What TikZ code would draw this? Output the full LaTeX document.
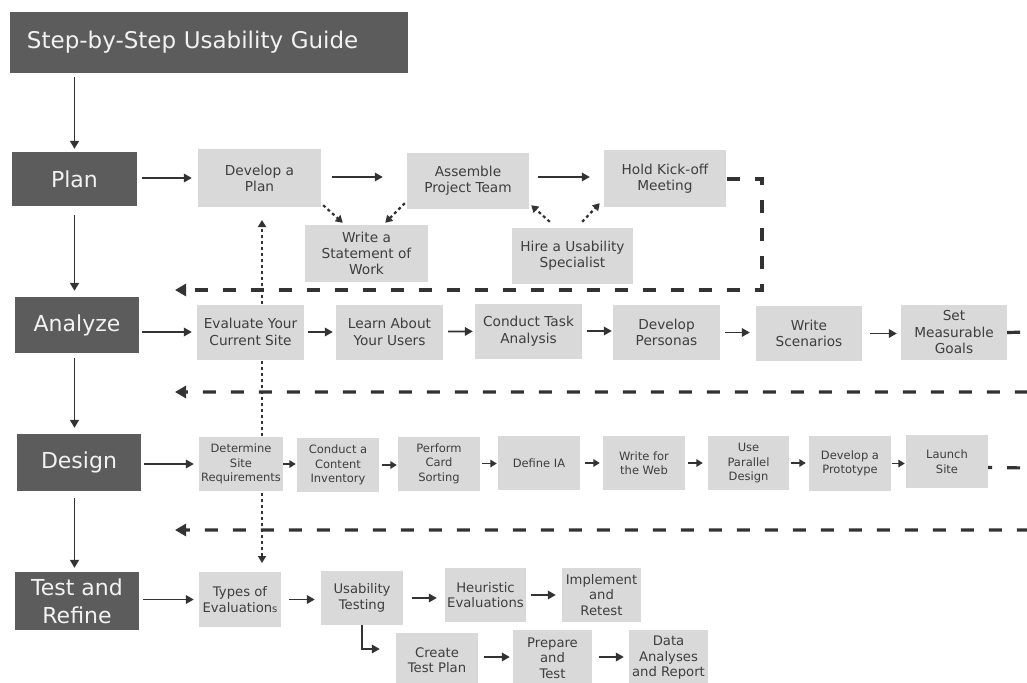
\documentclass[tikz,border=0pt]{standalone}
\usepackage{fontspec}
\setmainfont{DejaVu Sans}
\usetikzlibrary{arrows.meta,calc}
\definecolor{headfill}{HTML}{5C5C5C}
\definecolor{headtext}{HTML}{F2F2F2}
\definecolor{stepfill}{HTML}{D9D9D9}
\definecolor{steptext}{HTML}{3E3E3E}
\definecolor{ink}{HTML}{333333}

\begin{document}
\begin{tikzpicture}[x=1pt,y=-1pt,
  head/.style={fill=headfill, text=headtext, font=\fontsize{22}{28}\selectfont,
    align=center, inner sep=0pt, minimum width=124pt},
  stepbox/.style={fill=stepfill, text=steptext, align=center, inner sep=0pt},
  planbox/.style={stepbox, font=\fontsize{13.7}{16}\selectfont, minimum width=122pt, minimum height=57pt},
  anabox/.style={stepbox, font=\fontsize{13.7}{16.5}\selectfont, minimum width=107pt, minimum height=55pt},
  desbox/.style={stepbox, font=\fontsize{11.5}{14.5}\selectfont, minimum width=82pt, minimum height=54pt},
  testbox/.style={stepbox, font=\fontsize{13.2}{15.5}\selectfont, minimum width=81pt, minimum height=55pt},
  flow/.style={draw=ink, line width=1.8pt, -{Triangle[length=8pt,width=8.5pt]}},
  shortflow/.style={draw=ink, line width=1.6pt, -{Triangle[length=6.5pt,width=7.5pt]}},
  downflow/.style={draw=ink, line width=1.8pt, -{Triangle[length=8pt,width=9pt]}},
  loopback/.style={draw=ink, line width=3.2pt, dash pattern=on 13pt off 15pt,
    -{Triangle[length=11pt,width=12pt]}},
  hint/.style={draw=ink, line width=2.2pt, dash pattern=on 3pt off 3pt,
    -{Triangle[length=7pt,width=8pt]}},
  crosslink/.style={draw=ink, line width=2pt, dash pattern=on 3pt off 3pt,
    {Triangle[length=7pt,width=8pt]}-{Triangle[length=7pt,width=8pt]}}
]
\useasboundingbox (0,0) rectangle (1027,682);
\fill[white] (0,0) rectangle (1027,682);

% dotted link between "Develop a Plan" and "Types of Evaluations" (drawn first, boxes cover it)
\coordinate (vtop) at (262,220);
\coordinate (vbot) at (262,563);
\draw[crosslink] (vbot) -- (vtop);

% title and phase headings
\node[fill=headfill, text=headtext, font=\fontsize{23}{28}\selectfont, align=left,
  text width=364pt, inner xsep=17pt, inner ysep=0pt, minimum height=61pt]
  (title) at (209,42.5) {Step-by-Step Usability Guide};
\node[head, minimum width=125pt, minimum height=54pt] (plan) at (74.5,179) {Plan};
\node[head, minimum height=56pt] (analyze) at (77,325) {Analyze};
\node[head, minimum height=57pt] (design) at (79,462.5) {Design};
\node[head, minimum height=58pt] (test) at (77,601) {Test and\\Refine};

% Plan
\node[planbox, minimum width=123pt, minimum height=58pt] (dplan) at (259.5,178) {Develop a\\Plan};
\node[planbox, minimum height=56pt] (team) at (468,181) {Assemble\\Project Team};
\node[planbox] (kick) at (665,178.5) {Hold Kick-off\\Meeting};
\node[planbox, minimum width=123pt] (sow) at (366.5,253.5) {Write a\\Statement of\\Work};
\node[planbox, minimum width=121pt, minimum height=56pt] (hire) at (572.5,256) {Hire a Usability\\Specialist};

% Analyze
\node[anabox] (eval) at (250.5,332) {Evaluate Your\\Current Site};
\node[anabox] (learn) at (389.5,332) {Learn About\\Your Users};
\node[anabox] (task) at (528.5,331) {Conduct Task\\Analysis};
\node[anabox] (pers) at (666.5,332.5) {Develop\\Personas};
\node[anabox, minimum width=106pt] (scen) at (809,333.5) {Write\\Scenarios};
\node[anabox, minimum width=106pt] (goals) at (954,332.5) {Set\\Measurable\\Goals};

% Design
\node[desbox, minimum width=84pt] (req) at (241,464) {Determine\\Site\\Requirements};
\node[desbox] (inv) at (338,465) {Conduct a\\Content\\Inventory};
\node[desbox] (card) at (439,463.5) {Perform\\Card\\Sorting};
\node[desbox] (ia) at (539,463) {Define IA};
\node[desbox] (web) at (644,463) {Write for\\the Web};
\node[desbox, minimum width=81pt] (par) at (748.5,463) {Use\\Parallel\\Design};
\node[desbox, minimum height=55pt] (proto) at (850,463.5) {Develop a\\Prototype};
\node[desbox, minimum height=53pt] (launch) at (947,461.5) {Launch\\Site};

% Test and Refine
\node[testbox, minimum width=82pt] (types) at (240,599.5) {Types of\\Evaluation{\fontsize{10}{12}\selectfont s}};
\node[testbox, minimum width=82pt, minimum height=54pt] (ut) at (362,598) {Usability\\Testing};
\node[testbox, minimum height=54pt] (heur) at (485.5,595) {Heuristic\\Evaluations};
\node[testbox, minimum width=79pt, minimum height=54pt] (impl) at (601.5,595) {Implement\\and\\Retest};
\node[testbox, minimum width=82pt, minimum height=54pt] (ctp) at (437,660) {Create\\Test Plan};
\node[testbox, minimum width=79pt, minimum height=56pt] (prep) at (552.5,658) {Prepare\\and\\Test};
\node[testbox, minimum width=79pt, minimum height=56pt] (data) at (668.5,658) {Data\\Analyses\\and Report};

% main spine
\draw[downflow, shorten <=4pt, shorten >=3pt] (plan.north |- title.south) -- (plan.north);
\draw[downflow, shorten <=9pt, shorten >=6pt] (plan.south) -- (plan.south |- analyze.north);
\draw[downflow, shorten <=5pt, shorten >=6pt] (plan.south |- analyze.south) -- (plan.south |- design.north);
\draw[downflow, shorten <=7pt, shorten >=4pt] (plan.south |- design.south) -- (plan.south |- test.north);

% phase to first step
\draw[flow, shorten <=5pt, shorten >=6pt] (plan.east |- dplan.west) -- (dplan.west);
\draw[flow, shorten <=3pt, shorten >=5pt] (analyze.east |- eval.west) -- (eval.west);
\draw[flow, shorten <=3pt, shorten >=5pt] (design.east |- req.west) -- (req.west);
\draw[flow, shorten <=4pt, shorten >=5pt] (test.east |- types.west) -- (types.west);

% Plan row
\draw[flow, shorten <=11pt, shorten >=24pt] ($(dplan.east)+(0,-1)$) -- ($(team.west)+(0,-4)$);
\draw[flow, shorten <=9pt, shorten >=14pt] ($(team.east)+(0,-4)$) -- ($(kick.west)+(0,-1.5)$);
\draw[hint] ($(dplan.south east)+(2,-2)$) -- ($(sow.north west)+(38,-2)$);
\draw[hint] ($(team.south west)+(-2,-6)$) -- ($(sow.north east)+(-43,-2)$);
\draw[hint] ($(hire.north west)+(38,-6)$) -- ($(team.south east)+(2,-4)$);
\draw[hint] ($(hire.north east)+(-51,-6)$) -- ($(kick.south west)+(-4,-4)$);
\coordinate (pcorner1) at (762,179);
\coordinate (pcorner2) at (762,290);
\coordinate (pend) at (175,290);
\draw[loopback] ($(kick.east)+(1,0.5)$) -- (pcorner1) -- (pcorner2) -- (pend);

% Analyze row
\draw[flow, shorten <=4pt, shorten >=3pt] (eval) -- (learn);
\draw[flow, shorten <=5pt, shorten >=2pt] (learn) -- (task);
\draw[flow, shorten <=5pt, shorten >=1pt] (task.east) -- (task.east -| pers.west);
\draw[flow, shorten <=5pt, shorten >=6pt] (pers.east) -- (pers.east -| scen.west);
\draw[flow, shorten <=8pt, shorten >=4pt] (scen.east) -- (scen.east -| goals.west);
\coordinate (acorner1) at (1029.5,332);
\coordinate (acorner2) at (1029.5,392);
\coordinate (aend) at (175,392);
\draw[loopback] (goals.east) -- (acorner1) -- (acorner2) -- (aend);

% Design row
\draw[shortflow, shorten <=0pt, shorten >=1pt] (req.east) -- (req.east -| inv.west);
\draw[shortflow, shorten <=3pt, shorten >=1pt] (inv.east) -- (inv.east -| card.west);
\draw[shortflow, shorten <=2pt, shorten >=1pt] (card.east) -- (card.east -| ia.west);
\draw[shortflow, shorten <=5pt, shorten >=3pt] (ia.east) -- (ia.east -| web.west);
\draw[shortflow, shorten <=3pt, shorten >=5pt] (web.east) -- (web.east -| par.west);
\draw[shortflow, shorten <=2pt, shorten >=3pt] (par.east) -- (par.east -| proto.west);
\draw[shortflow, shorten <=1pt, shorten >=1pt] (proto.east) -- (proto.east -| launch.west);
\coordinate (dcorner1) at (1029.5,468);
\coordinate (dcorner2) at (1029.5,530);
\coordinate (dend) at (175,530);
\draw[loopback, dash phase=9pt] ([yshift=-6pt]launch.east) -- (dcorner1) -- (dcorner2) -- (dend);

% Test and Refine row
\draw[flow, shorten <=8pt, shorten >=6pt] (types.east) -- (types.east -| ut.west);
\draw[flow, shorten <=9pt, shorten >=8pt] (ut.east) -- (ut.east -| heur.west);
\draw[flow, shorten <=5pt, shorten >=6pt] (heur.east) -- (heur.east -| impl.west);
\coordinate (elbow) at (362,649);
\draw[flow, shorten >=16pt] (ut.south) -- (elbow) -- (elbow -| ctp.west);
\draw[flow, shorten <=6pt, shorten >=3pt] ($(ctp.east)+(0,-3)$) -- ($(prep.west)+(0,-1)$);
\draw[flow, shorten <=7pt, shorten >=5pt] ($(prep.east)+(0,-1)$) -- ($(data.west)+(0,-1)$);
\end{tikzpicture}
\end{document}
